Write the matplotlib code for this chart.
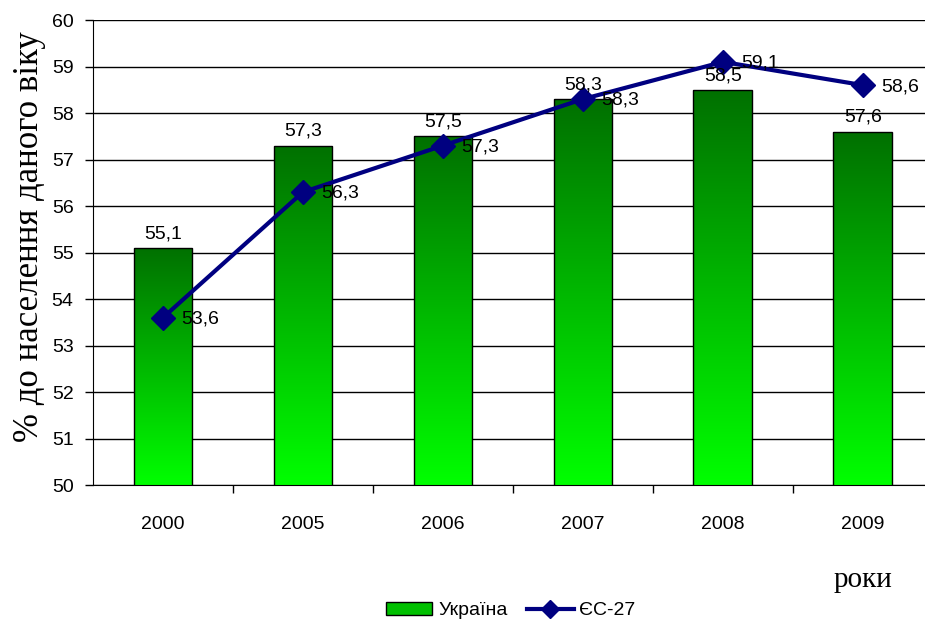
import numpy as np
import matplotlib.pyplot as plt
from matplotlib.colors import LinearSegmentedColormap
from matplotlib.patches import Patch
from matplotlib.lines import Line2D

plt.rcParams['font.family'] = ['Liberation Sans', 'DejaVu Sans']

years = ['2000', '2005', '2006', '2007', '2008', '2009']
ukraine = [55.1, 57.3, 57.5, 58.3, 58.5, 57.6]
eu27 = [53.6, 56.3, 57.3, 58.3, 59.1, 58.6]

def fmt(v):
    return f'{v:.1f}'.replace('.', ',')

fig = plt.figure(figsize=(9.25, 6.26), dpi=100)
ax = fig.add_axes([0.1005, 0.2252, 0.908, 0.7428])

x = np.arange(len(years))
bars = ax.bar(x, ukraine, width=0.42, color='none',
              edgecolor='black', linewidth=1.0, zorder=3)

# gradient fill: dark green at top, bright green at bottom
cmap = LinearSegmentedColormap.from_list('g', ['#00ff00', '#007000'])
grad = np.linspace(0, 1, 256).reshape(-1, 1)
for b in bars:
    x0 = b.get_x()
    w = b.get_width()
    top = b.get_height()
    im = ax.imshow(grad, extent=[x0, x0 + w, 50, top], origin='lower',
                   cmap=cmap, aspect='auto', zorder=2)
    im.set_clip_path(b)

ax.plot(x, eu27, color='#000080', linewidth=3, marker='D', markersize=12,
        zorder=4)

for xi, v in zip(x, ukraine):
    ax.annotate(fmt(v), (xi, v), xytext=(0, 7), textcoords='offset points',
                ha='center', va='baseline', fontsize=14, zorder=5)
for xi, v in zip(x, eu27):
    ax.annotate(fmt(v), (xi, v), xytext=(13, -1), textcoords='offset points',
                ha='left', va='center', fontsize=14, zorder=5)

ax.set_xlim(-0.5, len(years) - 0.5)
ax.set_ylim(50, 60)
ax.set_yticks(range(50, 61))
ax.yaxis.grid(True, color='black', linewidth=1.0, zorder=0)
ax.set_axisbelow(True)
ax.set_xticks(x)
ax.set_xticklabels(years, fontsize=14)
ax.set_xticks(np.arange(0.5, len(years) - 0.5), minor=True)
ax.tick_params(axis='x', which='major', length=0, pad=22)
ax.tick_params(axis='x', which='minor', length=6, direction='out', width=1)
ax.tick_params(axis='y', length=6, direction='out', labelsize=14, width=1,
               pad=8)
for s in ['top', 'right']:
    ax.spines[s].set_visible(False)

ax.set_ylabel('% до населення даного віку', family='Liberation Serif',
              fontsize=25)
ax.yaxis.set_label_coords(-0.056, 0.535)

fig.text(0.965, 0.073, 'роки', family='Liberation Serif', fontsize=21,
         ha='right', va='center')

handles = [Patch(facecolor='#00c000', edgecolor='black', label='Україна'),
           Line2D([], [], color='#000080', linewidth=3, marker='D',
                  markersize=9, label='ЄС-27')]
fig.legend(handles=handles, loc='center', bbox_to_anchor=(0.552, 0.024),
           ncol=2, frameon=False, fontsize=14, handlelength=2.4,
           handleheight=0.6, columnspacing=1.0, handletextpad=0.3)

fig.savefig('out.png', dpi=100)
